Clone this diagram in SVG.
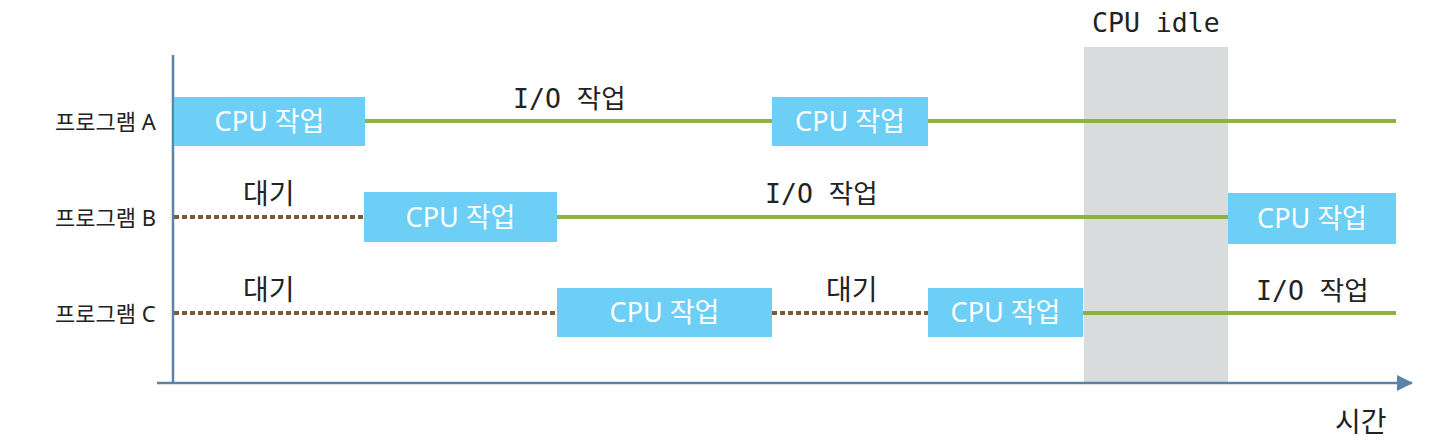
<svg xmlns="http://www.w3.org/2000/svg" width="1440" height="447" viewBox="0 0 1440 447">
<style>
.box{fill:#6DCFF6}
.bt{fill:#ffffff;font-family:"Noto Sans","Noto Sans CJK KR",sans-serif;font-size:27px;text-anchor:middle}
.io{stroke:#8DB43F;stroke-width:4;fill:none}
.wait{stroke:#7A5A3A;stroke-width:4;stroke-dasharray:5 3;fill:none}
.lbl{fill:#222;font-family:"Noto Sans","Noto Sans CJK KR",sans-serif;font-size:22px}
.mono{fill:#222;font-family:"DejaVu Sans Mono","Noto Sans CJK KR",monospace;font-size:26.5px}
.kr{fill:#222;font-family:"Noto Sans CJK KR",sans-serif;font-size:28px}
</style>
<defs>
<marker id="ah" markerWidth="16" markerHeight="16" refX="15" refY="8" orient="auto" markerUnits="userSpaceOnUse">
<path d="M0,0 L16,8 L0,16 Z" fill="#5B82A8"/>
</marker>
</defs>
<rect id="idle" x="1084" y="47" width="144" height="336" fill="#D9DCDD"/>
<text class="mono" x="1092" y="32">CPU idle</text>
<g id="connectors">
<line class="io" x1="365" y1="121" x2="772" y2="121"/>
<line class="io" x1="928" y1="121" x2="1396" y2="121"/>
<line class="wait" x1="174" y1="217" x2="364" y2="217"/>
<line class="io" x1="557" y1="217" x2="1228" y2="217"/>
<line class="wait" x1="174" y1="313" x2="557" y2="313"/>
<line class="wait" x1="772" y1="313" x2="928" y2="313"/>
<line class="io" x1="1083" y1="313" x2="1396" y2="313"/>
</g>
<g id="axes">
<line x1="173" y1="55" x2="173" y2="384" stroke="#5B82A8" stroke-width="2.5"/>
<line x1="157" y1="383" x2="1412" y2="383" stroke="#5B82A8" stroke-width="2.5" marker-end="url(#ah)"/>
<text class="kr" x="1335" y="432">시간</text>
</g>
<g id="labels">
<text class="lbl" x="55" y="130">프로그램 A</text>
<text class="lbl" x="55" y="226">프로그램 B</text>
<text class="lbl" x="55" y="322">프로그램 C</text>
<text class="mono" x="513" y="108">I/O 작업</text>
<text class="mono" x="765" y="203">I/O 작업</text>
<text class="mono" x="1256" y="300">I/O 작업</text>
<text class="kr" x="243" y="204">대기</text>
<text class="kr" x="243" y="300">대기</text>
<text class="kr" x="826" y="300">대기</text>
</g>
<g id="a1"><rect class="box" x="174" y="97" width="191" height="49"/><text class="bt" x="269.5" y="131">CPU 작업</text></g>
<g id="a2"><rect class="box" x="772" y="97" width="156" height="49"/><text class="bt" x="850" y="131">CPU 작업</text></g>
<g id="b1"><rect class="box" x="364" y="192" width="193" height="50"/><text class="bt" x="460.5" y="227">CPU 작업</text></g>
<g id="b2"><rect class="box" x="1228" y="193" width="168" height="51"/><text class="bt" x="1312" y="228">CPU 작업</text></g>
<g id="c1"><rect class="box" x="557" y="288" width="215" height="49"/><text class="bt" x="664.5" y="322">CPU 작업</text></g>
<g id="c2"><rect class="box" x="928" y="288" width="155" height="49"/><text class="bt" x="1005.5" y="322">CPU 작업</text></g>
</svg>
